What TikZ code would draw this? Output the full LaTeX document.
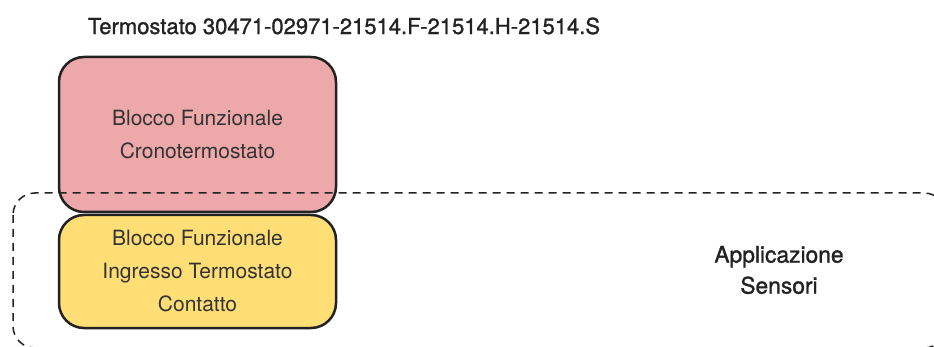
\documentclass[tikz,border=0pt]{standalone}
\usepackage{fontspec}
\setmainfont{TeX Gyre Heros}
\newfontfamily\mediumfont{TeX Gyre Heros}[FakeBold=1.2]
\usepackage{xcolor}
\definecolor{cronoRed}{HTML}{EDA8A9}
\definecolor{ingressoYellow}{HTML}{FFDE75}
\definecolor{lineGray}{HTML}{222222}
\definecolor{textGray}{HTML}{333333}

\begin{document}
\begin{tikzpicture}[x=1pt,y=-1pt]
        \useasboundingbox (0,0) rectangle (934,347);
        \clip (0,0) rectangle (934,347);

        % Title
        \node[text=lineGray] (titleNode) at (344,26) {\mediumfont\fontsize{22}{26}\selectfont Termostato 30471-02971-21514.F-21514.H-21514.S};

        % Function blocks
        \node[draw=lineGray, line width=2.5pt, fill=cronoRed, rounded corners=25pt, minimum width=277pt, minimum height=155pt, align=center, text=textGray, font=\fontsize{21}{33}\selectfont] (cronoBox) at (197.5,134.5) {Blocco Funzionale\\Cronotermostato};
        \node[draw=lineGray, line width=2.5pt, fill=ingressoYellow, rounded corners=25pt, minimum width=277pt, minimum height=113pt, align=center, text=textGray, font=\fontsize{21}{33}\selectfont] (ingressoBox) at (197.5,271.5) {Blocco Funzionale\\Ingresso Termostato\\Contatto};

        % Dashed application area
        \draw[lineGray, line width=1.5pt, dash pattern=on 8pt off 6pt, rounded corners=22pt] (13,193) rectangle (946,348);
        \node[align=center, text=lineGray, font=\mediumfont\fontsize{22.8}{31}\selectfont] (sensoriNode) at (779,270) {Applicazione\\Sensori};
    \end{tikzpicture}
\end{document}
